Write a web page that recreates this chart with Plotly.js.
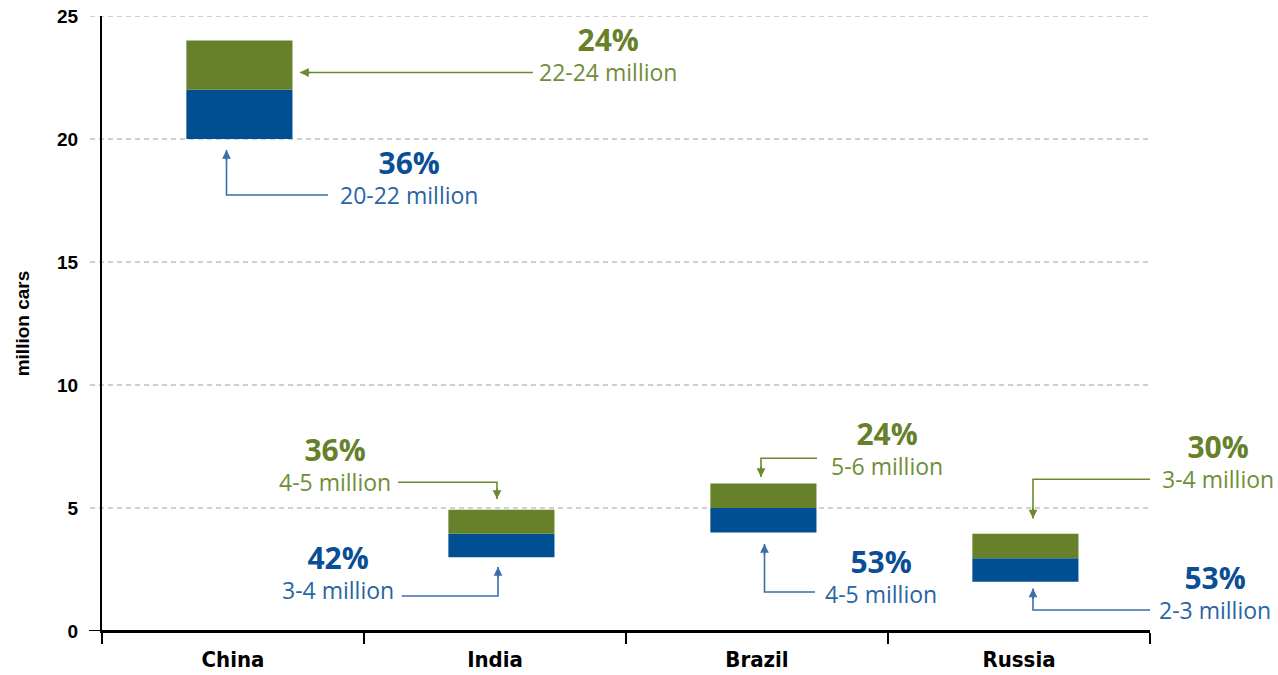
<!DOCTYPE html>
<html>
<head>
<meta charset="utf-8">
<script src="https://cdn.plot.ly/plotly-3.0.1.min.js"></script>
<style>html,body{margin:0;padding:0;background:#fff;}#chart{width:1278px;height:675px;}</style>
</head>
<body>
<div id="chart"></div>
<script>
// ---- data ----
var countries = ['China', 'India', 'Brazil', 'Russia'];
var lowValues = [20, 3, 4, 2];          // bottom of blue segment (million cars)
var midValues = [22, 3.95, 5, 2.96];    // top of blue / bottom of green
var highValues = [24, 4.93, 6, 3.95];   // top of green segment
var blueShares = ['36%', '42%', '53%', '53%'];
var blueRanges = ['20-22 million', '3-4 million', '4-5 million', '2-3 million'];
var greenShares = ['24%', '36%', '24%', '30%'];
var greenRanges = ['22-24 million', '4-5 million', '5-6 million', '3-4 million'];
var yTicks = [0, 5, 10, 15, 20, 25];
var yTitle = 'million cars';

// ---- layout geometry (pixels) ----
var W = 1278, H = 675;
var M = {l: 102, r: 128, t: 16, b: 44};
var PW = W - M.l - M.r, PH = H - M.t - M.b;
function xp(px) { return (px - M.l) / PW; }
function yp(py) { return (H - M.b - py) / PH; }

var GREEN = '#66812a', BLUE = '#004f93';
var GREEN_T = '#66812a', GREEN_T2 = '#6f8e38';
var BLUE_T = '#0a4f96', BLUE_T2 = '#2a64a4';
var GREEN_L = '#6b8a30', BLUE_L = '#3b6fa9';

// label positions: [pctX, pctY, rangeX, rangeY]
var greenLabelPos = [[607.5, 40, 607.5, 72], [335, 450, 334, 482], [886, 434, 887.5, 466], [1217.5, 447, 1218, 479]];
var blueLabelPos = [[410, 164, 407, 195], [337.5, 561, 337.5, 590], [881, 562, 880, 594], [1212.5, 578, 1218, 610]];
// arrows: start, corner, tip
var greenArrows = [[[533, 72.5], [533, 72.5], [300, 72.5]], [[398, 482.3], [497, 482.3], [497, 499]], [[817, 458.3], [761, 458.3], [761, 477]], [[1150, 479.3], [1033, 479.3], [1033, 518.5]]];
var blueArrows = [[[328, 195], [226.5, 195], [226.5, 150]], [[401.7, 596], [498, 596], [498, 567]], [[815, 592], [764.5, 592], [764.5, 544]], [[1150, 610], [1033, 610], [1033, 588.5]]];

var PCT_SIZE = 30, RANGE_SIZE = 23;
var FAMILY = 'Open Sans, Noto Sans, sans-serif';

var traces = [
  {type: 'bar', x: countries, base: lowValues,
   y: midValues.map(function (m, i) { return m - lowValues[i]; }),
   marker: {color: BLUE, line: {width: 0}}, width: 0.405, offset: -0.178,
   hoverinfo: 'skip', showlegend: false},
  {type: 'bar', x: countries, base: midValues,
   y: highValues.map(function (h, i) { return h - midValues[i]; }),
   marker: {color: GREEN, line: {width: 0}}, width: 0.405, offset: -0.178,
   hoverinfo: 'skip', showlegend: false}
];

var shapes = [];
yTicks.forEach(function (v) {
  if (v === 0) return;
  shapes.push({type: 'line', xref: 'paper', yref: 'y', x0: -12 / PW, x1: 1, y0: v, y1: v,
    line: {color: '#a0a0a0', width: 1, dash: '5px,4px'}, layer: 'below'});
});
shapes.push({type: 'line', xref: 'paper', yref: 'y', x0: -13 / PW, x1: 1, y0: 0, y1: 0,
  line: {color: '#000', width: 2}, layer: 'above'});

var annotations = [];
function addArrow(a, col) {
  var s = a[0], c = a[1], t = a[2];
  shapes.push({type: 'path', xref: 'paper', yref: 'paper',
    path: 'M ' + xp(s[0]) + ' ' + yp(s[1]) + ' L ' + xp(c[0]) + ' ' + yp(c[1]) + ' L ' + xp(t[0]) + ' ' + yp(t[1]),
    line: {color: col, width: 1.6}});
  var dx = t[0] - c[0], dy = t[1] - c[1];
  var len = Math.sqrt(dx * dx + dy * dy);
  var back = Math.min(12, len);
  annotations.push({xref: 'paper', yref: 'paper', x: xp(t[0]), y: yp(t[1]), text: '',
    showarrow: true, arrowhead: 2, arrowsize: 1.1, arrowwidth: 1.6, arrowcolor: col,
    ax: -dx / len * back, ay: -dy / len * back, standoff: 0});
}
function addLabels(pos, pct, rng, c1, c2) {
  // one text block: bold share on top, range below
  var cx = (pos[0] + pos[2]) / 2;
  annotations.push({xref: 'paper', yref: 'paper', x: xp(cx), y: yp(pos[3] + 18), text:
    '<b><span style="font-size:' + PCT_SIZE + 'px;color:' + c1 + '">' + pct + '</span></b><br>' + rng,
    showarrow: false, xanchor: 'center', yanchor: 'bottom', align: 'center',
    font: {family: FAMILY, size: RANGE_SIZE, color: c2}});
}
for (var i = 0; i < countries.length; i++) {
  addArrow(greenArrows[i], GREEN_L);
  addArrow(blueArrows[i], BLUE_L);
  addLabels(greenLabelPos[i], greenShares[i], greenRanges[i], GREEN_T, GREEN_T2);
  addLabels(blueLabelPos[i], blueShares[i], blueRanges[i], BLUE_T, BLUE_T2);
}

var layout = {
  width: W, height: H,
  margin: M,
  paper_bgcolor: '#fff', plot_bgcolor: '#fff',
  barmode: 'overlay',
  xaxis: {type: 'category', range: [-0.5, 3.5], showgrid: false, zeroline: false,
    showline: true, linecolor: '#000', linewidth: 2,
    ticks: 'outside', tickson: 'boundaries', ticklen: 11, tickwidth: 2, tickcolor: '#000',
    tickfont: {family: 'Liberation Sans Narrow, DejaVu Sans Condensed, Arial Narrow, sans-serif', size: 22, weight: 700, color: '#000'},
    ticklabelstandoff: 8, fixedrange: true},
  yaxis: {range: [0, 25], tickvals: yTicks, ticktext: yTicks.map(String),
    showgrid: false, zeroline: false, showline: true, linecolor: '#000', linewidth: 2,
    ticks: '', ticklabelstandoff: 18,
    tickfont: {family: 'Liberation Sans, Arial, sans-serif', size: 19, weight: 700, color: '#000'},
    title: {text: yTitle, standoff: 22, font: {family: 'Liberation Sans, Arial, sans-serif', size: 19, weight: 700, color: '#000'}},
    fixedrange: true},
  shapes: shapes,
  annotations: annotations,
  showlegend: false
};

Plotly.newPlot('chart', traces, layout, {displayModeBar: false, staticPlot: true});
</script>
</body>
</html>
